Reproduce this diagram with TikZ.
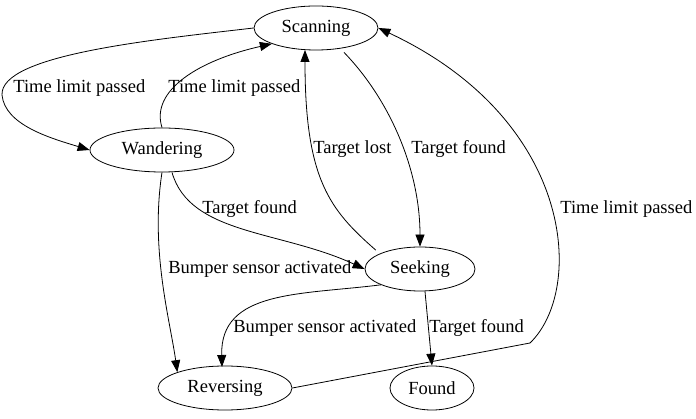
\documentclass[tikz,border=0pt]{standalone}
\usepackage{fontspec}
\setmainfont{Liberation Serif}
\usetikzlibrary{arrows.meta,shapes.geometric}
\begin{document}
\begin{tikzpicture}[x=1pt,y=-1pt,line width=0.8pt,
  st/.style={draw,ellipse,minimum height=44pt,inner sep=0pt,font=\fontsize{18.5}{20}\selectfont},
  e/.style={draw,-{Triangle[length=12pt,width=9pt]}},
  lb/.style={font=\fontsize{18.5}{20}\selectfont,inner sep=1pt}]
\useasboundingbox (0,0) rectangle (696,419);
\node[st,minimum width=124pt] (sc) at (316,28) {Scanning};
\node[st,minimum width=144pt] (wa) at (162,150) {Wandering};
\node[st,minimum width=110pt] (se) at (420,269) {Seeking};
\node[st,minimum width=134pt] (re) at (225,388) {Reversing};
\node[st,minimum width=84pt] (fo) at (432,388) {Found};
\draw[e] (sc.west) .. controls (150,40) and (0,55) .. (2,95) .. controls (5,125) and (50,138) .. (wa.west);
\node[lb,anchor=west] at (12,88) {Time limit passed};
\draw[e] (wa.north) .. controls (150,90) and (200,60) .. (sc.south west);
\node[lb,anchor=west] at (167,88) {Time limit passed};
\draw[e] (sc.south) ++(28,2) .. controls (390,100) and (420,170) .. (se.north);
\node[lb,anchor=west] at (410,149) {Target found};
\draw[e] (se.north west) ++(-5,-3) .. controls (330,210) and (305,180) .. (305,50);
\node[lb,anchor=west] at (312,149) {Target lost};
\draw[e] (wa.south) ++(10,0) .. controls (190,235) and (280,230) .. (se.west);
\node[lb,anchor=west] at (201,209) {Target found};
\draw[e] (wa.south) .. controls (150,250) and (170,320) .. (re.north west);
\node[lb,anchor=west] at (167,269) {Bumper sensor activated};
\draw[e] (se.south west) .. controls (300,295) and (220,290) .. (222,367);
\node[lb,anchor=west] at (232,328) {Bumper sensor activated};
\draw[e] (se.south) ++(5,0) -- (fo.north);
\node[lb,anchor=west] at (428,328) {Target found};
\draw[e] (re.east) -- (530,343) .. controls (585,290) and (575,120) .. (sc.east);
\node[lb,anchor=west] at (559,209) {Time limit passed};
\end{tikzpicture}
\end{document}
